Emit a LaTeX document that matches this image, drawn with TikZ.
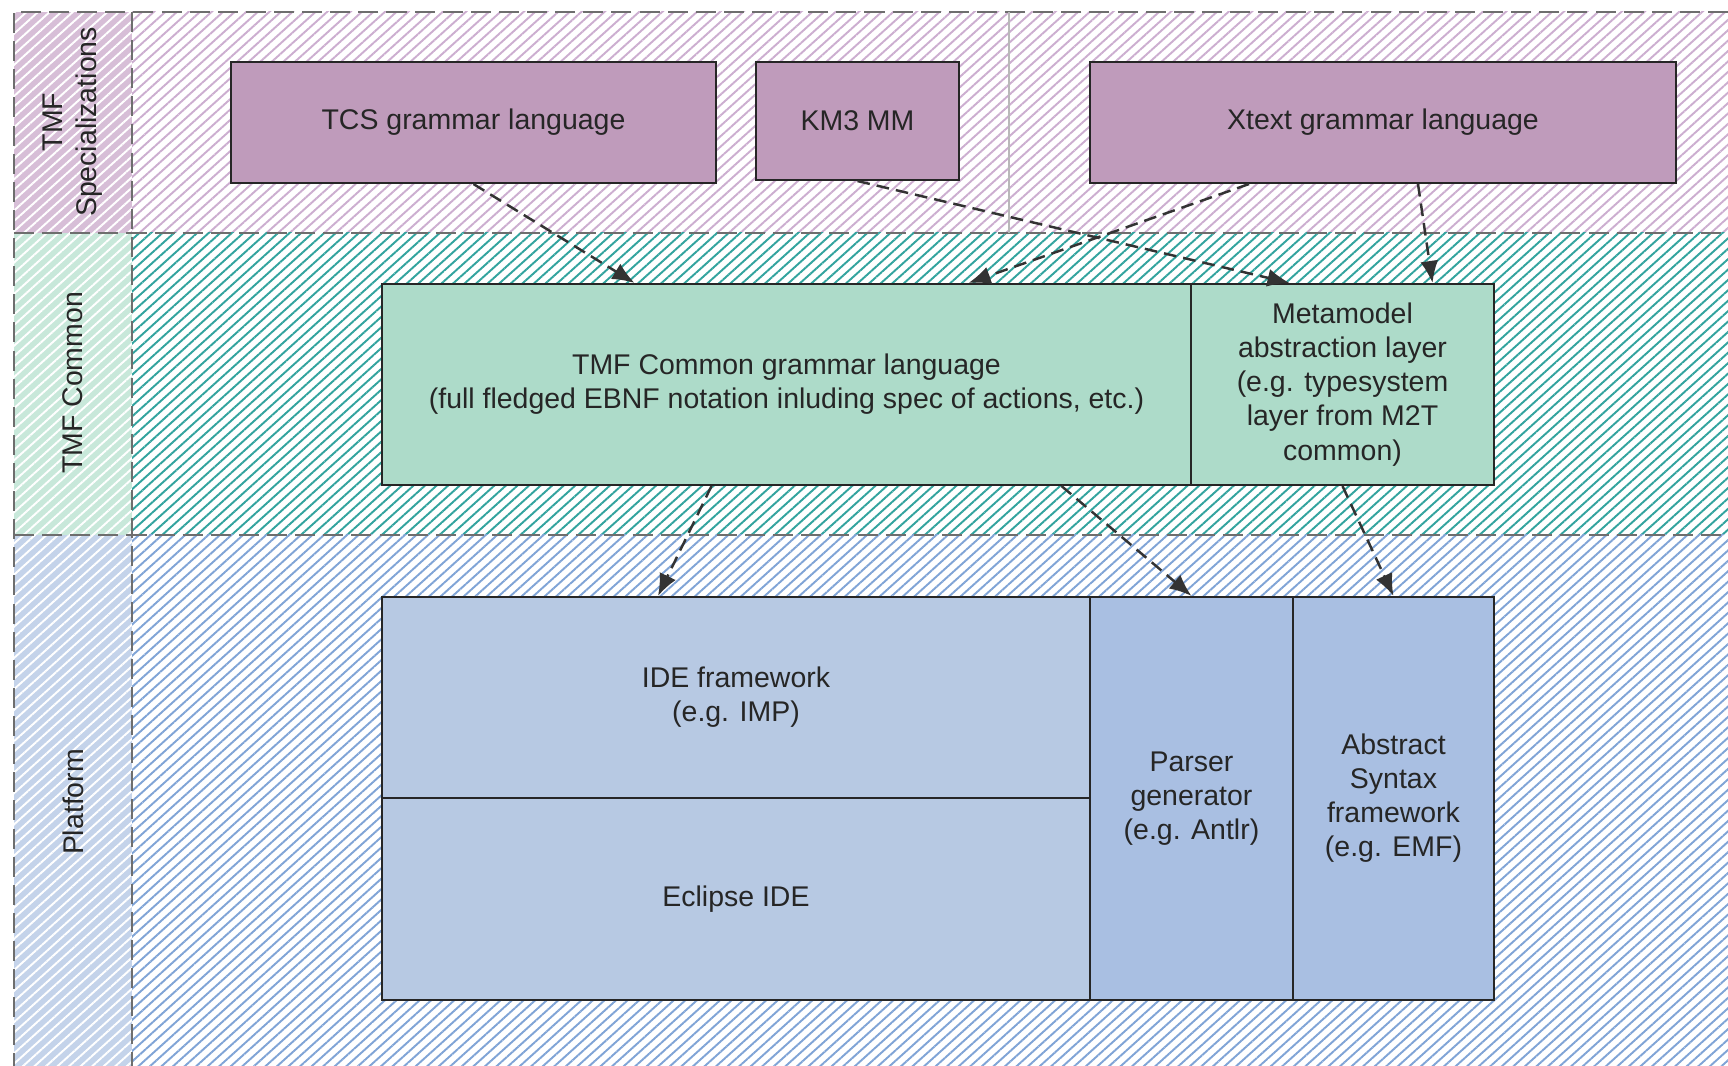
\documentclass[tikz,border=0pt]{standalone}
\usepackage{fontspec}
\setmainfont{Liberation Sans}
\usetikzlibrary{arrows.meta,patterns.meta}

\definecolor{specbox}{RGB}{191,155,187}
\definecolor{speclane}{RGB}{215,190,215}
\definecolor{spechatch}{RGB}{204,174,208}
\definecolor{commbox}{RGB}{173,219,201}
\definecolor{commlane}{RGB}{200,232,218}
\definecolor{commhatch}{RGB}{50,163,158}
\definecolor{platbox}{RGB}{183,201,227}
\definecolor{platboxdark}{RGB}{169,191,226}
\definecolor{platlane}{RGB}{196,211,234}
\definecolor{plathatch}{RGB}{128,164,214}
\definecolor{lanerule}{RGB}{110,110,110}

\begin{document}
\begin{tikzpicture}[>={Latex[length=2.2mm,width=1.8mm]},
  font=\fontsize{8.1}{9.7}\selectfont,
  box/.style={draw=black!85, line width=0.6pt, align=center, inner sep=2pt, text=black!85},
  specnode/.style={box, fill=specbox},
  commnode/.style={box, fill=commbox},
  platnode/.style={box, fill=platbox},
  platdark/.style={box, fill=platboxdark},
  hatch/.style={pattern={Lines[angle=42,distance=2.2pt,line width=0.55pt]}, pattern color=#1},
  lane/.style={draw=lanerule, line width=0.6pt, dash pattern=on 5.7pt off 2.3pt},
  depends/.style={->, draw=black!80, line width=0.7pt, dash pattern=on 3.6pt off 2pt},
  lanelabel/.style={rotate=90, align=center, text=black!85}]
\useasboundingbox (0,0) rectangle (17.28,-10.66);

% swimlanes
\fill[speclane] (0.14,-0.12) rectangle (1.32,-2.33);
\fill[commlane] (0.14,-2.33) rectangle (1.32,-5.35);
\fill[platlane] (0.14,-5.35) rectangle (1.32,-10.66);
\path[hatch=white] (0.14,-0.12) rectangle (1.32,-10.66);
\path[hatch=spechatch] (1.32,-0.12) rectangle (17.28,-2.33);
\path[hatch=commhatch] (1.32,-2.33) rectangle (17.28,-5.35);
\path[hatch=plathatch] (1.32,-5.35) rectangle (17.28,-10.66);

\draw[lane] (17.28,-0.12) -- (0.14,-0.12) -- (0.14,-10.66);
\draw[lane] (0.14,-2.33) -- (17.28,-2.33);
\draw[lane] (0.14,-5.35) -- (17.28,-5.35);
\draw[lane] (1.32,-0.12) -- (1.32,-10.66);
\draw[gray!55, line width=0.5pt] (10.09,-0.12) -- (10.09,-2.33);

\node[lanelabel] (lspec) at (0.73, -1.22) {TMF\\Specializations};
\node[lanelabel] (lcomm) at (0.73, -3.83) {TMF Common};
\node[lanelabel] (lplat) at (0.73, -8.02) {Platform};

% TMF specializations
\node[specnode, minimum width=4.85cm, minimum height=1.21cm] (tcs)   at (4.735, -1.225) {TCS grammar language};
\node[specnode, minimum width=2.03cm, minimum height=1.18cm] (km3)   at (8.575, -1.21)  {KM3 MM};
\node[specnode, minimum width=5.86cm, minimum height=1.21cm] (xtext) at (13.83, -1.225) {Xtext grammar language};

% TMF common
\node[commnode, minimum width=8.09cm, minimum height=2.01cm] (grammar) at (7.865, -3.845)
  {TMF Common grammar language\\(full fledged EBNF notation inluding spec of actions, etc.)};
\node[commnode, minimum width=3.03cm, minimum height=2.01cm] (meta)    at (13.425, -3.845)
  {Metamodel\\abstraction layer\\(e.g. typesystem\\layer from M2T\\common)};

% platform
\node[platnode, minimum width=7.08cm, minimum height=2.01cm] (ide)      at (7.36, -6.975)  {IDE framework\\(e.g. IMP)};
\node[platnode, minimum width=7.08cm, minimum height=2.02cm] (eclipse)  at (7.36, -8.99)   {Eclipse IDE};
\node[platdark, minimum width=2.03cm, minimum height=4.03cm] (parser)   at (11.915, -7.985) {Parser\\generator\\(e.g. Antlr)};
\node[platdark, minimum width=2.01cm, minimum height=4.03cm] (abstract) at (13.935, -7.985) {Abstract\\Syntax\\framework\\(e.g. EMF)};

\draw[depends] (tcs.south) -- ([xshift=-1.52cm]grammar.north);
\draw[depends] (km3.south) -- ([xshift=-0.53cm]meta.north);
\draw[depends] ([xshift=-1.34cm]xtext.south) -- ([xshift=1.82cm]grammar.north);
\draw[depends] ([xshift=0.35cm]xtext.south) -- ([xshift=0.9cm]meta.north);

\draw[depends] ([xshift=-0.75cm]grammar.south) -- ([xshift=-0.78cm]ide.north);
\draw[depends] ([xshift=2.75cm]grammar.south) -- (parser.north);
\draw[depends] (meta.south) -- (abstract.north);

\end{tikzpicture}
\end{document}
